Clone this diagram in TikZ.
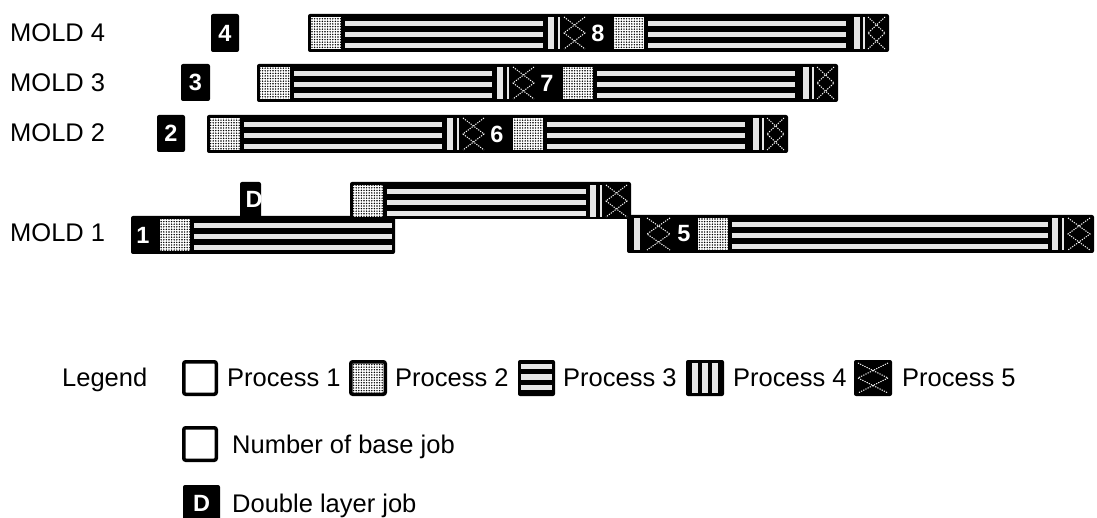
\documentclass[tikz,border=0pt]{standalone}
\usepackage{fontspec}
\setmainfont{Liberation Sans}
\usetikzlibrary{patterns}
\definecolor{lightbar}{HTML}{E6E6E6}
\pgfdeclarepatternformonly{densedots}{\pgfpoint{-1pt}{-1pt}}{\pgfpoint{1pt}{1pt}}{\pgfpoint{2.6pt}{2.6pt}}{%
  \pgfpathcircle{\pgfpointorigin}{0.8pt}\pgfusepath{fill}}
\tikzset{
  barbg/.style={fill=black, rounded corners=2pt},
  lightfill/.style={fill=lightbar},
  crossline/.style={draw=white, line width=1pt, dash pattern=on 1.2pt off 1.2pt},
  numtext/.style={text=white, font=\fontsize{23.5}{28}\selectfont\bfseries, inner sep=0pt},
  lbl/.style={font=\fontsize{25.5}{30}\selectfont, inner sep=0pt, anchor=base west},
  iconbox/.style={line width=3.5pt, rounded corners=2pt},
}
% segment macros: #1 = x0, #2 = x1, #3 = bar top y
\newcommand{\dotseg}[3]{%
  \fill[white] (#1,{#3+3}) rectangle (#2,{#3+35});
  \fill[pattern=densedots] (#1,{#3+3}) rectangle (#2,{#3+35});}
\newcommand{\stripeseg}[3]{%
  \foreach \yy in {7,18,29} {\fill[lightfill] (#1,{#3+\yy}) rectangle (#2,{#3+\yy+5});}}
\newcommand{\lightv}[2]{\fill[lightfill] (#1,{#2+3}) rectangle ({#1+6},{#2+35});}
\newcommand{\thinv}[2]{\fill[lightfill] (#1,{#2+3}) rectangle ({#1+1.5},{#2+35});}
\newcommand{\crossseg}[3]{%
  \draw[crossline] (#1,{#3+3}) -- (#2,{#3+19}) -- (#1,{#3+35});
  \draw[crossline] (#2,{#3+3}) -- (#1,{#3+19}) -- (#2,{#3+35});}
% two-job bar: #1 = x start, #2 = top y, #3 = number, #4 = node name
\newcommand{\twojob}[4]{%
  \fill[barbg] (#1,#2) rectangle ({#1+581},{#2+38});
  \dotseg{#1+3}{#1+33}{#2}
  \stripeseg{#1+37}{#1+235}{#2}
  \lightv{#1+240}{#2}
  \thinv{#1+250}{#2}
  \crossseg{#1+256}{#1+277}{#2}
  \node[numtext] (#4) at ({#1+290},{#2+19}) {#3};
  \dotseg{#1+306}{#1+336}{#2}
  \stripeseg{#1+340}{#1+538}{#2}
  \lightv{#1+546}{#2}
  \thinv{#1+555}{#2}
  \crossseg{#1+560}{#1+577}{#2}}
\begin{document}
\begin{tikzpicture}[x=1pt,y=-1pt]
\useasboundingbox (0,0) rectangle (1097,518);

% ---------- MOLD labels ----------
\node[lbl] (m4) at (10,42) {MOLD 4};
\node[lbl] (m3) at (10,92) {MOLD 3};
\node[lbl] (m2) at (10,142) {MOLD 2};
\node[lbl] (m1) at (10,242) {MOLD 1};

% ---------- MOLD 4 ----------
\fill[barbg] (211,14) rectangle (239,52);
\node[numtext] (n4) at (225,33) {4};
\twojob{308}{14}{8}{n8}

% ---------- MOLD 3 ----------
\fill[barbg] (181,64) rectangle (210,101);
\node[numtext] (n3) at (195.5,82.5) {3};
\twojob{257}{64}{7}{n7}

% ---------- MOLD 2 ----------
\fill[barbg] (157,115) rectangle (185,152);
\node[numtext] (n2) at (171,133.5) {2};
\twojob{207}{115}{6}{n6}

% ---------- MOLD 1 ----------
% double layer marker
\fill[barbg] (240,182) rectangle (261,220);
\begin{scope}
  \clip (240,182) rectangle (261,216);
  \node[numtext] (nD) at (254,199) {D};
\end{scope}
% lower left bar (job 1)
\fill[barbg] (131,216) rectangle (395,254);
\node[numtext] (n1) at (143,235) {1};
\dotseg{160}{190}{216}
\stripeseg{194}{392}{216}
% lower right bar (job 1 end, job 5)
\fill[barbg] (627,215) rectangle (1094,253);
\lightv{634}{215}
\crossseg{647}{670}{215}
\node[numtext] (n5) at (684,234) {5};
\dotseg{698}{728}{215}
\stripeseg{732}{1048}{215}
\lightv{1052}{215}
\thinv{1062}{215}
\crossseg{1068}{1090}{215}
% upper bar (job 1 double layer)
\fill[barbg] (350,182) rectangle (631,219);
\dotseg{353}{383}{182}
\stripeseg{387}{586}{182}
\lightv{590}{182}
\thinv{600}{182}
\crossseg{606}{627}{182}

% ---------- Legend ----------
\node[lbl] (leg) at (62,386) {Legend};
% process 1
\draw[iconbox, fill=white] (183.75,361.75) rectangle (216.25,394.25);
\node[lbl] (p1) at (227,386) {Process 1};
% process 2
\fill[white] (351,362) rectangle (385,394);
\fill[pattern=densedots] (351,362) rectangle (385,394);
\draw[iconbox] (350.75,361.75) rectangle (385.25,394.25);
\node[lbl] (p2) at (395,386) {Process 2};
% process 3
\fill[barbg] (518,360) rectangle (555,396);
\foreach \yy in {363.5,374,384.5} {\fill[lightfill] (521,\yy) rectangle (552,{\yy+5.5});}
\node[lbl] (p3) at (563,386) {Process 3};
% process 4
\fill[barbg] (686,360) rectangle (724,396);
\foreach \xx in {692,702,712} {\fill[lightfill] (\xx,363) rectangle ({\xx+6},393);}
\node[lbl] (p4) at (733,386) {Process 4};
% process 5
\fill[barbg] (854,360) rectangle (892,396);
\draw[crossline] (858,363) -- (888,378) -- (858,393);
\draw[crossline] (888,363) -- (858,378) -- (888,393);
\node[lbl] (p5) at (902,386) {Process 5};
% number of base job
\draw[iconbox, fill=white] (183.75,427.75) rectangle (216.25,460.25);
\node[lbl] (nb) at (232,453) {Number of base job};
% double layer job
\fill[barbg] (183,485) rectangle (220,521);
\node[numtext] (dD) at (201.5,503) {D};
\node[lbl] (dl) at (232,512) {Double layer job};
\end{tikzpicture}
\end{document}
